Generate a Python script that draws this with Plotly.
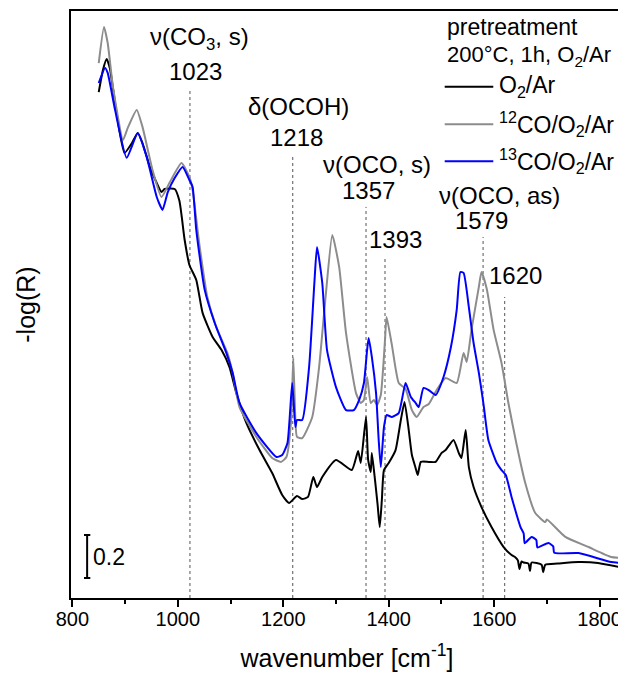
import plotly.graph_objects as go

# ---- data ----
wn_o2 = [850, 858, 865, 871, 881, 890, 899, 913, 924, 933, 947, 960, 969, 975, 994, 1003, 1013, 1022,
         1035, 1047, 1066, 1083, 1098, 1111, 1130, 1155, 1179, 1198, 1211, 1226, 1236, 1247, 1257, 1264,
         1274, 1300, 1330, 1342, 1347, 1357, 1361, 1366, 1368, 1374, 1379, 1383, 1387, 1391, 1400, 1413,
         1423, 1430, 1438, 1444, 1451, 1455, 1461, 1476, 1489, 1500, 1508, 1523, 1533, 1538, 1546, 1552,
         1561, 1576, 1595, 1618, 1633, 1640, 1645, 1648, 1652, 1656, 1665, 1668, 1671, 1690, 1693, 1697,
         1720, 1760, 1797, 1845]
y_o2 = [2.353, 2.456, 2.507, 2.465, 2.302, 2.163, 2.070, 2.116, 2.163, 2.116, 2.005, 1.930, 1.888, 1.902,
        1.902, 1.847, 1.665, 1.549, 1.479, 1.326, 1.214, 1.153, 1.074, 0.953, 0.814, 0.688, 0.581, 0.479,
        0.442, 0.474, 0.460, 0.470, 0.563, 0.516, 0.563, 0.642, 0.595, 0.684, 0.628, 0.842, 0.642, 0.586,
        0.674, 0.549, 0.433, 0.330, 0.456, 0.595, 0.628, 0.688, 0.828, 0.912, 0.781, 0.665, 0.605, 0.572,
        0.633, 0.633, 0.633, 0.674, 0.688, 0.735, 0.674, 0.651, 0.781, 0.609, 0.516, 0.423, 0.330, 0.237,
        0.200, 0.190, 0.175, 0.135, 0.170, 0.165, 0.160, 0.125, 0.165, 0.155, 0.120, 0.155, 0.160, 0.167,
        0.163, 0.140]

wn_12co = [850, 860, 867, 877, 896, 905, 922, 933, 952, 969, 984, 1007, 1022, 1028, 1041, 1056, 1073, 1094,
           1104, 1117, 1149, 1179, 1196, 1206, 1215, 1219, 1223, 1226, 1236, 1255, 1268, 1281, 1293, 1306,
           1319, 1338, 1347, 1353, 1359, 1366, 1372, 1378, 1385, 1393, 1396, 1406, 1419, 1432, 1444, 1453,
           1466, 1476, 1491, 1508, 1529, 1542, 1548, 1557, 1571, 1576, 1586, 1599, 1614, 1627, 1642, 1659,
           1678, 1697, 1700, 1735, 1779, 1822, 1845]
y_12co = [2.488, 2.656, 2.581, 2.377, 2.130, 2.186, 2.270, 2.191, 1.991, 1.865, 1.930, 2.023, 1.958, 1.898,
          1.642, 1.400, 1.260, 1.140, 1.047, 0.888, 0.749, 0.651, 0.633, 0.656, 0.828, 1.116, 0.828, 0.749,
          0.744, 0.842, 1.074, 1.419, 1.688, 1.540, 1.233, 0.953, 0.907, 0.921, 1.028, 0.907, 0.921, 0.898,
          0.944, 1.200, 1.307, 1.177, 1.000, 0.972, 0.874, 0.842, 0.888, 0.902, 0.967, 1.023, 1.000, 1.140,
          1.098, 1.247, 1.447, 1.516, 1.437, 1.247, 1.093, 0.907, 0.721, 0.535, 0.395, 0.353, 0.365, 0.284,
          0.237, 0.191, 0.186]

wn_13co = [850, 862, 867, 881, 903, 924, 941, 960, 971, 981, 994, 1009, 1022, 1028, 1035, 1051, 1070, 1092,
           1104, 1117, 1149, 1187, 1198, 1208, 1217, 1223, 1226, 1236, 1249, 1259, 1264, 1274, 1283, 1300,
           1319, 1334, 1344, 1353, 1359, 1362, 1368, 1376, 1381, 1385, 1391, 1396, 1406, 1419, 1425, 1432,
           1442, 1451, 1457, 1466, 1476, 1489, 1504, 1518, 1529, 1536, 1542, 1552, 1561, 1571, 1580, 1589,
           1605, 1614, 1622, 1633, 1650, 1656, 1658, 1671, 1680, 1682, 1703, 1712, 1714, 1760, 1822, 1845]
y_13co = [2.395, 2.465, 2.442, 2.270, 2.047, 2.163, 2.051, 1.865, 1.805, 1.888, 1.953, 2.005, 1.944, 1.912,
          1.712, 1.433, 1.279, 1.140, 1.047, 0.907, 0.767, 0.656, 0.665, 0.721, 1.000, 0.795, 0.828, 0.828,
          1.074, 1.465, 1.633, 1.465, 1.153, 0.981, 0.874, 0.874, 0.921, 1.000, 1.153, 1.209, 1.121, 0.953,
          0.735, 0.609, 0.795, 0.851, 0.842, 0.860, 0.921, 1.000, 0.935, 0.907, 0.888, 0.977, 0.967, 0.944,
          1.028, 1.167, 1.340, 1.516, 1.512, 1.353, 1.186, 1.047, 0.898, 0.735, 0.628, 0.595, 0.572, 0.470,
          0.330, 0.300, 0.255, 0.284, 0.270, 0.235, 0.256, 0.240, 0.210, 0.209, 0.167, 0.163]

band_pos = [1023, 1218, 1357, 1393, 1579, 1620]
band_top = [2.372, 2.051, 1.819, 1.586, 1.679, 1.400]

x_ticks = [800, 1000, 1200, 1400, 1600, 1800]

FONT = "Arial, Liberation Sans, sans-serif"
FS_ANN = 24
FS_LEG = 23

fig = go.Figure()
fig.add_trace(go.Scatter(x=wn_o2, y=y_o2, mode="lines", name="O2/Ar",
                         line=dict(color="black", width=2, shape="spline", smoothing=0.5)))
fig.add_trace(go.Scatter(x=wn_12co, y=y_12co, mode="lines", name="12CO/O2/Ar",
                         line=dict(color="#8c8c8c", width=2, shape="spline", smoothing=0.5)))
fig.add_trace(go.Scatter(x=wn_13co, y=y_13co, mode="lines", name="13CO/O2/Ar",
                         line=dict(color="#0000ff", width=2, shape="spline", smoothing=0.5)))

# dotted band lines
for xp, yt in zip(band_pos, band_top):
    fig.add_shape(type="line", x0=xp, x1=xp, y0=0, y1=yt, xref="x", yref="y",
                  line=dict(color="#555555", width=1, dash="dot"), layer="below")

# band labels
labels = [
    ("ν(CO<sub>3</sub>, s)", 1041, 2.600),
    ("1023", 1034, 2.447),
    ("δ(OCOH)", 1228, 2.288),
    ("1218", 1226, 2.140),
    ("ν(OCO, s)", 1377, 2.014),
    ("1357", 1362, 1.893),
    ("1393", 1413, 1.665),
    ("ν(OCO, as)", 1610, 1.870),
    ("1579", 1576, 1.758),
    ("1620", 1640, 1.502),
]
for t, xv, yv in labels:
    fig.add_annotation(x=xv, y=yv, xref="x", yref="y", text=t, showarrow=False,
                       xanchor="center", yanchor="middle",
                       font=dict(family=FONT, size=FS_ANN, color="black"))

# legend block (paper coords)
fig.add_annotation(x=0.677, y=0.973, xref="paper", yref="paper", text="pretreatment",
                   showarrow=False, xanchor="left", yanchor="middle",
                   font=dict(family=FONT, size=FS_LEG, color="black"))
fig.add_annotation(x=0.677, y=0.923, xref="paper", yref="paper",
                   text="200°C, 1h, O<sub>2</sub>/Ar",
                   showarrow=False, xanchor="left", yanchor="middle",
                   font=dict(family=FONT, size=22, color="black"))
leg = [("O<sub>2</sub>/Ar", "black", 0.871),
       ("<sup>12</sup>CO/O<sub>2</sub>/Ar", "#8c8c8c", 0.807),
       ("<sup>13</sup>CO/O<sub>2</sub>/Ar", "#0000ff", 0.744)]
for t, c, yp in leg:
    fig.add_shape(type="line", x0=0.677, x1=0.765, y0=yp, y1=yp, xref="paper", yref="paper",
                  line=dict(color=c, width=2))
    fig.add_annotation(x=0.771, y=yp, xref="paper", yref="paper", text=t, showarrow=False,
                       xanchor="left", yanchor="middle",
                       font=dict(family=FONT, size=FS_LEG, color="black"))

# scale bar 0.2
sb_x = 828
fig.add_shape(type="line", x0=sb_x, x1=sb_x, y0=0.093, y1=0.293, xref="x", yref="y",
              line=dict(color="black", width=2))
for yy in (0.093, 0.293):
    fig.add_shape(type="line", x0=sb_x - 6, x1=sb_x + 6, y0=yy, y1=yy, xref="x", yref="y",
                  line=dict(color="black", width=2))
fig.add_annotation(x=836, y=0.193, xref="x", yref="y", text="0.2", showarrow=False,
                   xanchor="left", yanchor="middle",
                   font=dict(family=FONT, size=23, color="black"))

# page places the figure 8px in from the top-left corner; compensate
fig.update_layout(
    width=618, height=670,
    margin=dict(l=63, r=1, t=3, b=80),
    paper_bgcolor="white", plot_bgcolor="white",
    showlegend=False,
    font=dict(family=FONT, size=20, color="black"),
)
fig.update_xaxes(
    range=[797.4, 1844.4],
    tickmode="array", tickvals=x_ticks, ticktext=[str(v) for v in x_ticks],
    ticks="outside", ticklen=7, tickwidth=1.5, tickcolor="black",
    minor=dict(tickmode="array", tickvals=[900, 1100, 1300, 1500, 1700], ticks="outside",
               ticklen=4, tickwidth=1.5, tickcolor="black"),
    showline=True, linecolor="black", linewidth=2, mirror=True,
    showgrid=False, zeroline=False,
    tickfont=dict(family=FONT, size=20),
    ticklabelstandoff=-5,
    title=dict(text="wavenumber [cm<sup>-1</sup>]", font=dict(family=FONT, size=25), standoff=20),
)
fig.update_yaxes(
    range=[0, 2.73],
    showticklabels=False, ticks="",
    showline=True, linecolor="black", linewidth=2, mirror=True,
    showgrid=False, zeroline=False,
    title=dict(text="-log(R)", font=dict(family=FONT, size=25), standoff=26),
)

fig.write_html("out.html")
